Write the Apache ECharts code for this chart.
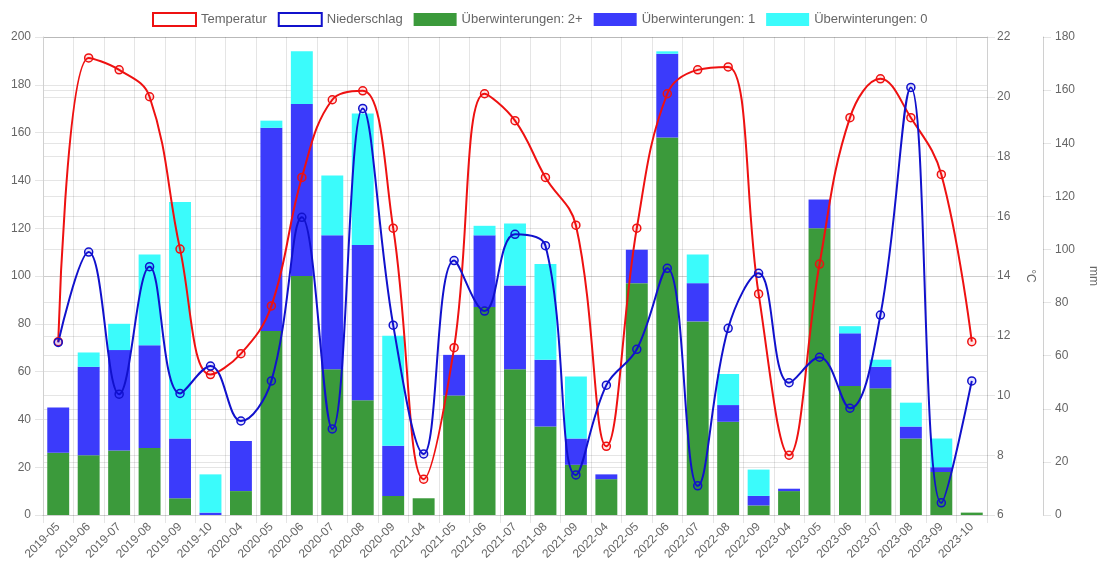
<!DOCTYPE html>
<html>
<head>
<meta charset="utf-8">
<script src="https://cdn.jsdelivr.net/npm/echarts@6/dist/echarts.min.js"></script>
<style>
  html, body { margin: 0; padding: 0; background: #fff; }
  #chart { width: 1100px; height: 563px; }
</style>
</head>
<body>
<div id="chart"></div>
<script>
const months = ['2019-05','2019-06','2019-07','2019-08','2019-09','2019-10',
  '2020-04','2020-05','2020-06','2020-07','2020-08','2020-09',
  '2021-04','2021-05','2021-06','2021-07','2021-08','2021-09',
  '2022-04','2022-05','2022-06','2022-07','2022-08','2022-09',
  '2023-04','2023-05','2023-06','2023-07','2023-08','2023-09','2023-10']

// overwintering counts (stacked)
const winter2 = [26,25,27,28,7,0, 10,77,100,61,48,8, 7,50,87,61,37,21, 15,97,158,81,39,4, 10,120,54,53,32,18,1]
const winter1 = [19,37,42,43,25,1, 21,85,72,56,65,21, 0,17,30,35,28,11, 2,14,35,16,7,4, 1,12,22,9,5,2,0]
const winter0 = [0,6,11,38,99,16, 0,3,22,25,55,46, 0,0,4,26,40,26, 0,0,1,12,13,11, 0,0,3,3,10,12,0]

// temperature in °C, precipitation in mm
const temperature = [11.8,21.3,20.9,20.0,14.9,10.7, 11.4,13.0,17.3,19.9,20.2,15.6,
  7.2,11.6,20.1,19.2,17.3,15.7, 8.3,15.6,20.1,20.9,21.0,13.4, 8.0,14.4,19.3,20.6,19.3,17.4,11.8]
const precipitation = [65,99,45.5,93.5,45.8,56.1, 35.4,50.5,112.1,32.4,153.1,71.5,
  23,95.8,76.8,105.7,101.4,15.1, 48.9,62.4,92.9,11.0,70.3,91.0, 49.8,59.4,40.2,75.3,161,4.6,50.5]

const gridColor = 'rgba(0,0,0,0.1)'
const textColor = '#666'
const font = "'Liberation Sans', Arial, sans-serif"

const chart = echarts.init(document.getElementById('chart'))

function valueAxis(opts) {
  return Object.assign({
    type: 'value',
    axisLine: { show: true, lineStyle: { color: '#d0d0d0' } },
    axisTick: { show: true, length: 8, lineStyle: { color: gridColor } },
    splitLine: { show: true, lineStyle: { color: gridColor } },
    nameTextStyle: { color: textColor, fontSize: 12, fontFamily: font }
  }, opts)
}

chart.setOption({
  animation: false,
  textStyle: { fontFamily: font },
  grid: { left: 43, right: 113, top: 37, bottom: 48, outerBoundsMode: 'none' },
  legend: {
    top: 12,
    left: 152,
    padding: 0,
    itemWidth: 43,
    itemHeight: 13,
    itemGap: 11,
    textStyle: { color: textColor, fontSize: 13, fontFamily: font },
    data: [
      { name: 'Temperatur', icon: 'rect', itemStyle: { color: '#fff', borderColor: '#ee1111', borderWidth: 2 } },
      { name: 'Niederschlag', icon: 'rect', itemStyle: { color: '#fff', borderColor: '#1111cc', borderWidth: 2 } },
      { name: 'Überwinterungen: 2+', icon: 'rect' },
      { name: 'Überwinterungen: 1', icon: 'rect' },
      { name: 'Überwinterungen: 0', icon: 'rect' }
    ]
  },
  xAxis: {
    type: 'category',
    data: months,
    boundaryGap: true,
    axisLine: { show: true, lineStyle: { color: '#d0d0d0' } },
    axisTick: { show: true, length: 8, lineStyle: { color: gridColor } },
    splitLine: { show: true, lineStyle: { color: gridColor } },
    axisLabel: { rotate: 45, interval: 0, color: textColor, fontSize: 12, fontFamily: font, margin: 10 }
  },
  yAxis: [
    valueAxis({ min: 0, max: 200, interval: 20, position: 'left',
      axisLabel: { color: textColor, fontSize: 12, fontFamily: font, margin: 12 } }),
    valueAxis({ min: 6, max: 22, interval: 2, position: 'right', name: '°C', nameLocation: 'middle', nameRotate: -90, nameGap: 37,
      axisLabel: { color: textColor, fontSize: 12, fontFamily: font, margin: 10 } }),
    valueAxis({ min: 0, max: 180, interval: 20, position: 'right', offset: 56, name: 'mm', nameLocation: 'middle', nameRotate: -90, nameGap: 44,
      axisLabel: { color: textColor, fontSize: 12, fontFamily: font, margin: 12 } })
  ],
  series: [
    {
      name: 'Temperatur', type: 'line', yAxisIndex: 1, data: temperature, smooth: 0.4, z: 10,
      symbol: 'circle', symbolSize: 8,
      lineStyle: { color: '#ee1111', width: 2 },
      itemStyle: { color: 'rgba(255,0,0,0.1)', borderColor: '#ee1111', borderWidth: 1.5 }
    },
    {
      name: 'Niederschlag', type: 'line', yAxisIndex: 2, data: precipitation, smooth: 0.4, z: 10,
      symbol: 'circle', symbolSize: 8,
      lineStyle: { color: '#1111cc', width: 2 },
      itemStyle: { color: 'rgba(0,0,255,0.1)', borderColor: '#1111cc', borderWidth: 1.5 }
    },
    { name: 'Überwinterungen: 2+', type: 'bar', stack: 'w', data: winter2, barWidth: '72%', itemStyle: { color: '#3b9a3b' } },
    { name: 'Überwinterungen: 1', type: 'bar', stack: 'w', data: winter1, barWidth: '72%', itemStyle: { color: '#3b3bfb' } },
    { name: 'Überwinterungen: 0', type: 'bar', stack: 'w', data: winter0, barWidth: '72%', itemStyle: { color: '#3bfbfb' } }
  ]
})
</script>
</body>
</html>
